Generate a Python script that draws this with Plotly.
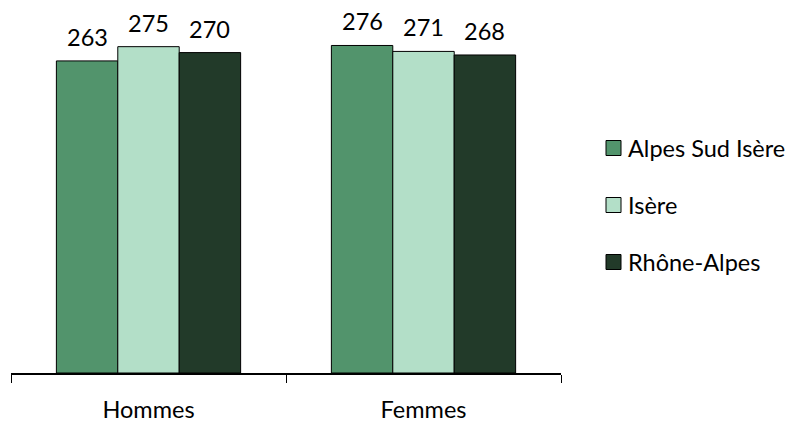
import plotly.graph_objects as go

# Data
categories = ["Hommes", "Femmes"]
series_names = ["Alpes Sud Isère", "Isère", "Rhône-Alpes"]
alpes_sud_isere = [263, 276]
isere = [275, 271]
rhone_alpes = [270, 268]
series_values = [alpes_sud_isere, isere, rhone_alpes]
colors = ["#52946C", "#B3DFC8", "#223A29"]

FONT = "Lato"
FONT_SIZE = 23.5
BARGAP = 0.33

fig = go.Figure()
for name, vals, col in zip(series_names, series_values, colors):
    fig.add_trace(go.Bar(
        x=categories, y=vals, name=name,
        marker=dict(color=col, line=dict(color="#000000", width=1)),
        showlegend=False,
    ))

# Value labels above each bar
bar_w = (1 - BARGAP) / len(series_names)
annotations = []
for j, vals in enumerate(series_values):
    for i, v in enumerate(vals):
        annotations.append(dict(
            x=i + (j - (len(series_names) - 1) / 2) * bar_w, y=v,
            xref="x", yref="y", text=str(v), showarrow=False,
            yanchor="bottom", yshift=8,
            font=dict(family=FONT, size=FONT_SIZE, color="#000000"),
        ))

# Legend drawn on the right: square swatch + label
l, r, t, b = 11, 229, 17, 52
W, H = 790, 425
pw, ph = W - l - r, H - t - b
shapes = []
legend_y = [148, 205, 262]
for name, col, yc in zip(series_names, colors, legend_y):
    y0 = (H - b - (yc + 7.5)) / ph
    y1 = (H - b - (yc - 7.5)) / ph
    shapes.append(dict(
        type="rect", xref="paper", yref="paper",
        x0=(606 - l) / pw, x1=(621 - l) / pw, y0=y0, y1=y1,
        fillcolor=col, line=dict(color="#000000", width=1),
    ))
    annotations.append(dict(
        x=(626 - l) / pw, y=(H - b - yc) / ph, xref="paper", yref="paper",
        text=name, showarrow=False, xanchor="left", yanchor="middle",
        font=dict(family=FONT, size=FONT_SIZE, color="#000000"),
    ))

fig.update_layout(
    width=W, height=H,
    margin=dict(l=l, r=r, t=t, b=b, pad=0, autoexpand=False),
    paper_bgcolor="#FFFFFF", plot_bgcolor="#FFFFFF",
    barmode="group", bargap=BARGAP, bargroupgap=0,
    font=dict(family=FONT, size=FONT_SIZE, color="#000000"),
    annotations=annotations, shapes=shapes,
    showlegend=False,
)
fig.update_xaxes(
    type="category", showline=True, linecolor="#000000", linewidth=2,
    ticks="outside", tickson="boundaries", ticklen=8, tickwidth=1,
    tickcolor="#000000", showgrid=False, zeroline=False,
    ticklabelstandoff=15, automargin=False,
    tickfont=dict(family=FONT, size=FONT_SIZE, color="#000000"),
)
fig.update_yaxes(
    range=[0, 300], visible=False, showgrid=False, zeroline=False,
    automargin=False,
)

fig.write_html("out.html")
